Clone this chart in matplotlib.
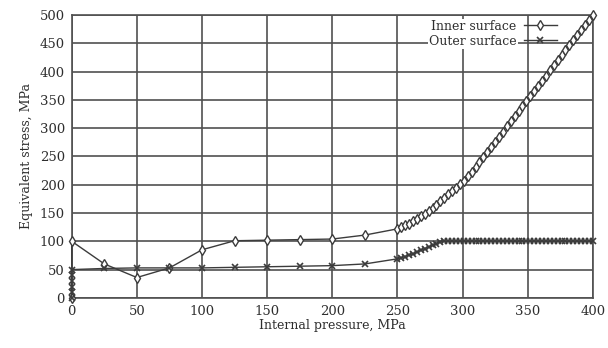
import matplotlib.pyplot as plt

# pressure steps (MPa) and equivalent stress (MPa)
inner_p = [0, 0, 25, 50, 75, 100, 125, 150, 175, 200, 225,
           250, 253, 256, 259, 262, 265, 268, 271, 274, 277, 280, 283,
           286, 289, 292, 295, 298, 301, 304, 307, 310, 313, 316, 319,
           322, 325, 328, 331, 334, 337, 340, 343, 346, 349, 352, 355,
           358, 361, 364, 367, 370, 373, 376, 379, 382, 385, 388, 391,
           394, 397, 400]
inner_s = [0, 100, 60, 36, 53, 85, 101, 102, 103, 104, 111,
           122, 125, 128, 131, 135, 139, 144, 149, 154, 159, 165, 171,
           177, 183, 189, 195, 201, 207, 215, 223, 231, 240, 249, 258,
           267, 276, 285, 294, 303, 312, 321, 330, 339, 348, 357, 366,
           375, 384, 393, 402, 411, 420, 429, 438, 447, 456, 465, 474,
           483, 491, 500]

outer_p = [0, 0, 0, 0, 0, 0, 25, 50, 75, 100, 125, 150, 175, 200, 225,
           250, 253, 256, 259, 262, 265, 268, 271, 274, 277, 280, 283,
           286, 289, 292, 295, 298, 301, 304, 307, 310, 313, 316, 319,
           322, 325, 328, 331, 334, 337, 340, 343, 346, 349, 352, 355,
           358, 361, 364, 367, 370, 373, 376, 379, 382, 385, 388, 391,
           394, 397, 400]
outer_s = [0, 10, 20, 30, 40, 50, 52, 53, 53, 53, 54, 55, 56, 57, 60,
           69, 71, 73, 76, 78, 81, 84, 87, 90, 93, 96, 99,
           100, 100, 100, 100, 100, 100, 100, 100, 100, 100, 100, 100,
           100, 100, 100, 100, 100, 100, 100, 100, 100, 100, 100, 100,
           100, 100, 100, 100, 100, 100, 100, 100, 100, 100, 100, 100,
           100, 100, 100]

plt.rcParams['font.family'] = ['DejaVu Serif']
ink = '#3c3c3c'
txt = '#2e2e2e'

fig = plt.figure(figsize=(6.08, 3.48), dpi=100)
ax = fig.add_axes([0.118, 0.144, 0.857, 0.813])

ax.plot(inner_p, inner_s, color=ink, lw=1.0, marker='d', ms=5.5, mfc='white',
        mec=ink, mew=1.0, label='Inner surface', zorder=3, clip_on=False)
ax.plot(outer_p, outer_s, color=ink, lw=1.0, marker='x', ms=4.5, mec=ink,
        mew=1.2, label='Outer surface', zorder=3, clip_on=False)

ax.set_xlim(0, 400)
ax.set_ylim(0, 500)
ax.set_xticks(range(0, 401, 50))
ax.set_yticks(range(0, 501, 50))
ax.grid(True, color='#505050', lw=1.2)
ax.tick_params(length=0, labelsize=9.5, colors=txt, pad=5)
for s in ax.spines.values():
    s.set_color('#505050')
    s.set_linewidth(1.2)

ax.set_xlabel('Internal pressure, MPa', fontsize=9, color=txt, labelpad=1)
ax.set_ylabel('Equivalent stress, MPa', fontsize=9, color=txt, labelpad=5)

leg = ax.legend(loc='upper right', bbox_to_anchor=(0.945, 1.01), frameon=False,
                markerfirst=False, fontsize=9, handlelength=2.6,
                borderaxespad=0.2, labelspacing=0.15, handletextpad=0.6)
for t in leg.get_texts():
    t.set_color(txt)
    t.set_bbox(dict(facecolor='white', edgecolor='none', pad=0.8))

fig.savefig('out.png', dpi=100)
